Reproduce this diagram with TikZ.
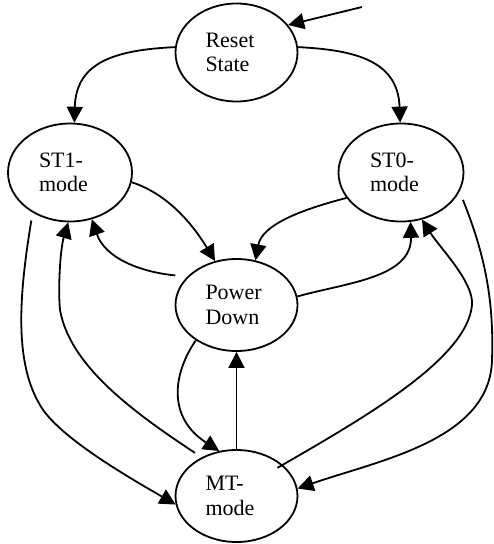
\documentclass[tikz,border=0pt]{standalone}
\usepackage{fontspec}
\setmainfont{Liberation Serif}
\usetikzlibrary{
    arrows.meta,
    shapes.geometric
}

\begin{document}
\begin{tikzpicture}[x=1pt, y=-1pt,
                        state/.style={draw, ellipse, line width=1.8pt, inner sep=0pt,
                            minimum width=122pt, minimum height=98pt,
                            text width=62pt, align=left,
                            font=\fontsize{22}{24.5}\selectfont},
                        trans/.style={line width=1.8pt, -{Triangle[length=16pt, width=16pt]}}]
                        \useasboundingbox (0, 0) rectangle (494, 544);

                        \node[state] (reset) at (236.5, 52.5) {Reset\\State};
                        \node[state, minimum width=124pt] (st1) at (70, 172.5) {ST1-\\mode};
                        \node[state, minimum width=125pt] (st0) at (401, 172.5) {ST0-\\mode};
                        \node[state, minimum height=92pt] (pd) at (236.5, 305) {Power\\Down};
                        \node[state, minimum height=92pt] (mt) at (236.5, 496) {MT-\\mode};
                        \coordinate (entry) at (362, 7);

                        \draw[trans] (entry) -- (reset.28);
                        \draw[trans] (reset.175) .. controls (115, 50) and (76, 62) .. (st1.85);
                        \draw[trans] (reset.5) .. controls (358, 50) and (398, 62) .. (st0.91);
                        \draw[trans] (st1.-9) .. controls (165, 193) and (190, 220) .. (pd.116);
                        \draw[trans] (st0.205) .. controls (300, 210) and (262, 225) .. (pd.67);
                        \draw[trans, shorten <=12pt] (pd.150) .. controls (140, 272) and (105, 258) .. (st1.-65);
                        \draw[trans] (pd.8) .. controls (345, 283) and (412, 278) .. (st0.-79);
                        \draw[trans, shorten <=8pt] (st1.227) .. controls (20, 290) and (13, 360) .. (40, 405)
                            .. controls (58, 437) and (130, 478) .. (mt.188);
                        \draw[trans, shorten <=8pt] (mt.132) .. controls (130, 410) and (70, 365) .. (60, 310)
                            .. controls (58, 290) and (60, 250) .. (st1.268);
                        \draw[trans] (pd.221) .. controls (172, 375) and (168, 418) .. (mt.111);
                        \draw[trans] (mt) -- (pd);
                        \draw[trans, shorten <=-6pt] (mt.34) .. controls (360, 420) and (467, 360) .. (472, 305)
                            .. controls (474, 282) and (440, 248) .. (st0.-66);
                        \draw[trans, shorten <=9pt] (st0.-18) .. controls (485, 255) and (494, 300) .. (492, 360)
                            .. controls (490, 440) and (380, 460) .. (mt.7);
                    \end{tikzpicture}
\end{document}
